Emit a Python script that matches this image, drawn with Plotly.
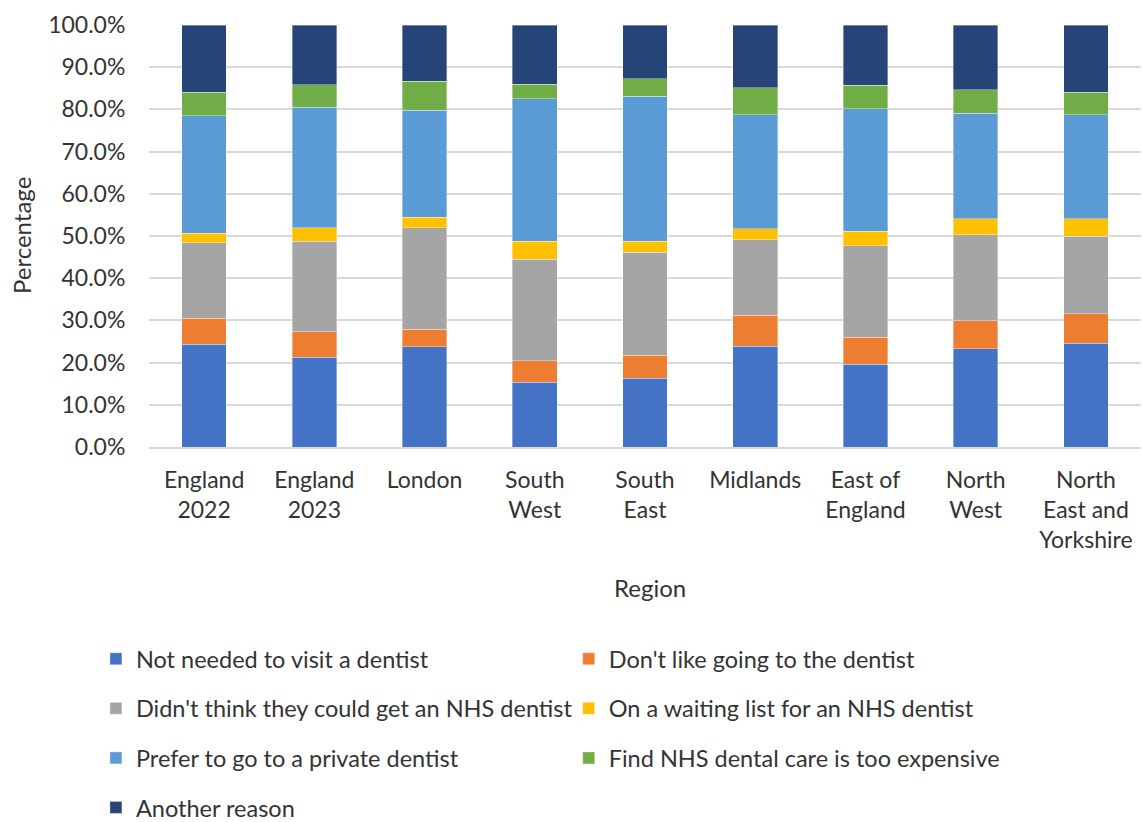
import plotly.graph_objects as go

regions = ["England<br>2022", "England<br>2023", "London", "South<br>West", "South<br>East",
           "Midlands", "East of<br>England", "North<br>West", "North<br>East and<br>Yorkshire"]

not_needed = [24.3, 21.3, 23.7, 15.4, 16.3, 23.9, 19.6, 23.3, 24.6]
dont_like = [6.2, 6.0, 4.2, 5.0, 5.4, 7.3, 6.4, 6.6, 7.0]
no_nhs_dentist = [17.9, 21.5, 24.1, 24.1, 24.4, 17.9, 21.7, 20.4, 18.4]
waiting_list = [2.3, 3.2, 2.4, 4.3, 2.7, 2.6, 3.4, 3.8, 4.1]
prefer_private = [27.8, 28.5, 25.4, 33.7, 34.3, 27.0, 29.0, 25.0, 24.6]
too_expensive = [5.6, 5.3, 6.9, 3.5, 4.2, 6.4, 5.6, 5.6, 5.4]
another_reason = [15.9, 14.2, 13.3, 14.0, 12.7, 14.9, 14.3, 15.3, 15.9]

series = [
    ("Not needed to visit a dentist", not_needed, "#4472C4", "legend"),
    ("Don't like going to the dentist", dont_like, "#ED7D31", "legend2"),
    ("Didn't think they could get an NHS dentist", no_nhs_dentist, "#A5A5A5", "legend"),
    ("On a waiting list for an NHS dentist", waiting_list, "#FFC000", "legend2"),
    ("Prefer to go to a private dentist", prefer_private, "#5B9BD5", "legend"),
    ("Find NHS dental care is too expensive", too_expensive, "#70AD47", "legend2"),
    ("Another reason", another_reason, "#264478", "legend"),
]

FONT = "Lato, Carlito, Calibri, sans-serif"
TXT = "#333333"
W, H = 1142, 822
# plot area in pixels
PL, PR, PT, PB = 149, W - 1, 25, 447

fig = go.Figure()
for i, (name, vals, color, lg) in enumerate(series):
    fig.add_trace(go.Bar(
        x=regions, y=vals, name=name, legend=lg, legendgroup=f"g{i}",
        marker=dict(color=color, line=dict(color="rgba(255,255,255,0.6)", width=0.6)),
    ))

# two legend columns, one group per entry so tracegroupgap sets the row spacing
legend_common = dict(
    orientation="v", xref="container", yref="container", yanchor="top", xanchor="left",
    font=dict(family=FONT, size=23.5, color=TXT), traceorder="grouped", tracegroupgap=16,
    bgcolor="rgba(0,0,0,0)", itemclick=False,
)

fig.update_layout(
    barmode="stack",
    bargap=0.595,
    width=W, height=H,
    margin=dict(l=PL, r=W - PR, t=PT, b=H - PB, autoexpand=False),
    paper_bgcolor="white", plot_bgcolor="white",
    font=dict(family=FONT, size=23, color=TXT),
    xaxis=dict(
        tickfont=dict(family=FONT, size=23, color=TXT),
        showline=True, linecolor="#d9d9d9", linewidth=1.5,
        ticks="outside", ticklen=12, tickcolor="rgba(0,0,0,0)",
    ),
    yaxis=dict(
        range=[0, 100], dtick=10, tickformat=".1f", ticksuffix="%",
        tickfont=dict(family=FONT, size=23, color=TXT),
        ticks="outside", ticklen=18, tickcolor="rgba(0,0,0,0)",
        showgrid=True, gridcolor="#d9d9d9", gridwidth=1.5, zeroline=False,
    ),
    legend=dict(x=0.084, y=1 - 637 / H, **legend_common),
    legend2=dict(x=0.498, y=1 - 637 / H, **legend_common),
    annotations=[
        # axis titles
        dict(text="Region", xref="paper", yref="paper",
             x=(650 - PL) / (PR - PL), y=-(587 - PB) / (PB - PT),
             showarrow=False, font=dict(family=FONT, size=24, color=TXT),
             xanchor="center", yanchor="middle"),
        dict(text="Percentage", xref="paper", yref="paper",
             x=-(PL - 21) / (PR - PL), y=0.5, textangle=-90,
             showarrow=False, font=dict(family=FONT, size=24, color=TXT),
             xanchor="center", yanchor="middle"),
    ],
)

fig.write_html("out.html")
